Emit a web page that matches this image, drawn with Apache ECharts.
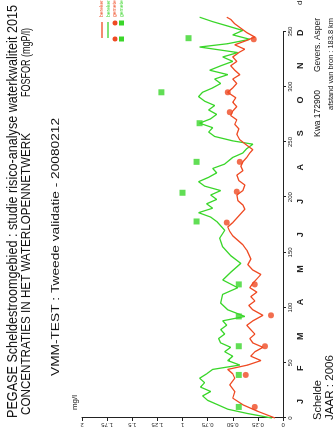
<!DOCTYPE html>
<html>
<head>
<meta charset="utf-8">
<script src="https://cdn.jsdelivr.net/npm/echarts@6/dist/echarts.min.js"></script>
<style>
  html, body { margin: 0; padding: 0; background: #fff; overflow: hidden; width: 336px; height: 436px; }
  /* the plot is laid out landscape and turned a quarter turn counter-clockwise */
  #chart { position: absolute; left: 0; top: 0; width: 436px; height: 336px;
           transform-origin: 0 0; transform: translate(0, 436px) rotate(-90deg); }
</style>
</head>
<body>
<div id="chart"></div>
<script>
// computed phosphorus, red station (day of year, mg P/l)
const dagenRood = [0, 6, 12, 18, 24, 30, 36, 40, 44, 48, 52, 56, 60, 64, 68, 72, 76, 80, 84, 88,
  93, 98, 102, 106, 110, 114, 118, 122, 126, 130, 134, 139, 144, 148, 152, 157, 161, 165, 169, 173,
  177, 181, 185, 189, 193, 197, 202, 206, 211, 215, 220, 224, 228, 232, 236, 240, 243, 247, 252, 257,
  262, 266, 270, 274, 278, 282, 286, 290, 295, 299, 303, 307, 311, 315, 319, 323, 327, 331, 334, 338,
  342, 345, 349, 353, 357, 361, 363];
const berekendRood = [0.08, 0.25, 0.40, 0.50, 0.48, 0.53, 0.48, 0.50, 0.55, 0.35, 0.22, 0.32, 0.28, 0.20, 0.30, 0.33, 0.28, 0.32, 0.36, 0.30,
  0.20, 0.30, 0.34, 0.28, 0.32, 0.26, 0.33, 0.30, 0.26, 0.22, 0.30, 0.35, 0.32, 0.34, 0.36, 0.40, 0.45, 0.50, 0.53, 0.55,
  0.50, 0.46, 0.42, 0.38, 0.40, 0.45, 0.46, 0.40, 0.38, 0.44, 0.46, 0.40, 0.42, 0.40, 0.36, 0.33, 0.30, 0.36, 0.43, 0.46,
  0.44, 0.48, 0.46, 0.52, 0.50, 0.46, 0.50, 0.47, 0.55, 0.50, 0.46, 0.50, 0.43, 0.48, 0.52, 0.46, 0.50, 0.44, 0.38, 0.48,
  0.36, 0.28, 0.36, 0.42, 0.48, 0.52, 0.56];

// computed phosphorus, green station (day of year, mg P/l)
const dagenGroen = [0, 4, 8, 12, 16, 20, 24, 28, 32, 36, 40, 44, 48, 52, 56, 60, 64, 68, 72, 76,
  80, 84, 88, 92, 98, 104, 112, 118, 125, 132, 140, 147, 155, 163, 170, 178, 182, 186, 190, 194,
  198, 202, 206, 210, 214, 218, 222, 226, 230, 236, 240, 244, 248, 251, 255, 259, 263, 267, 271, 275,
  279, 283, 287, 291, 295, 299, 303, 307, 311, 315, 319, 323, 327, 331, 336, 339, 343, 347, 351, 355,
  359, 363];
const berekendGroen = [0.11, 0.35, 0.55, 0.65, 0.75, 0.80, 0.72, 0.82, 0.78, 0.83, 0.76, 0.70, 0.43, 0.55, 0.50, 0.58, 0.52, 0.62, 0.64, 0.58,
  0.62, 0.56, 0.60, 0.38, 0.55, 0.62, 0.60, 0.45, 0.60, 0.52, 0.42, 0.52, 0.60, 0.63, 0.58, 0.66, 0.72, 0.84, 0.70, 0.76,
  0.66, 0.72, 0.62, 0.78, 0.84, 0.74, 0.66, 0.70, 0.58, 0.50, 0.40, 0.36, 0.30, 0.50, 0.68, 0.74, 0.70, 0.83, 0.72, 0.66,
  0.74, 0.68, 0.78, 0.84, 0.80, 0.70, 0.62, 0.68, 0.55, 0.73, 0.62, 0.50, 0.60, 0.45, 0.83, 0.55, 0.33, 0.50, 0.40, 0.55,
  0.70, 0.83];

// sampled values
const meetDagenRood = [10, 39, 65, 93, 121, 177, 205, 232, 277, 295, 343];
const gemetenRood   = [0.28, 0.37, 0.18, 0.12, 0.28, 0.56, 0.46, 0.43, 0.53, 0.55, 0.29];
const meetDagenGroen = [10, 39, 65, 92, 121, 178, 204, 232, 267, 295, 344];
const gemetenGroen   = [0.44, 0.44, 0.44, 0.44, 0.44, 0.86, 1.00, 0.86, 0.83, 1.21, 0.94];

// axis labelling
const valueTickLabels = ['0', '0.25', '0.50', '0.75', '1', '1.25', '1.5', '1.75', '2'];
const dayTicks = [0, 50, 100, 150, 200, 250, 300, 350];
const monthLetters = ['J', 'F', 'M', 'A', 'M', 'J', 'J', 'A', 'S', 'O', 'N', 'D'];
const monthMidDays = [15, 45, 74, 105, 135, 166, 196, 227, 258, 288, 319, 349];

const RED = '#ef4a23';
const GREEN = '#3ad62a';
const FAMILY = '"Liberation Sans", Arial, sans-serif';

const pairs = (xs, ys) => xs.map((x, i) => [x, ys[i]]);

// condensed text: squeeze a string horizontally so it spans [x0, x1]
const measureCtx = document.createElement('canvas').getContext('2d');
function fitTxt(text, x0, x1, y, size, opts) {
  opts = opts || {};
  const font = (opts.weight || 'normal') + ' ' + size + 'px ' + FAMILY;
  measureCtx.font = font;
  const w = measureCtx.measureText(text).width;
  return {
    type: 'text', x: x0, y: y, scaleX: (x1 - x0) / w, silent: true,
    style: {
      text: text, font: font, fill: opts.color || '#111',
      align: 'left', verticalAlign: 'middle', textAlign: 'left', textVerticalAlign: 'middle'
    }
  };
}
function txt(text, x, y, size, opts) {
  opts = opts || {};
  return {
    type: 'text', x: x, y: y, scaleX: opts.sx || 1, silent: true,
    style: {
      text: text, font: (opts.weight || 'normal') + ' ' + size + 'px ' + FAMILY,
      fill: opts.color || '#111',
      align: opts.align || 'left', verticalAlign: 'middle',
      textAlign: opts.align || 'left', textVerticalAlign: 'middle'
    }
  };
}

const chart = echarts.init(document.getElementById('chart'), null, { renderer: 'canvas' });

const option = {
  animation: false,
  backgroundColor: '#fff',
  grid: { left: 18, right: 15, top: 82, bottom: 53, containLabel: false },
  xAxis: [{
    type: 'value', min: 0, max: 365,
    axisLine: { show: false },
    axisTick: { show: true, customValues: dayTicks, length: 3, lineStyle: { color: '#222' } },
    axisLabel: { customValues: dayTicks, fontSize: 6, color: '#222', margin: 4, fontFamily: FAMILY },
    splitLine: { show: false }
  }, {
    type: 'value', min: 0, max: 365, position: 'bottom',
    axisLine: { show: false }, axisTick: { show: false },
    axisLabel: {
      customValues: monthMidDays, margin: 13, fontSize: 9, fontWeight: 'bold', color: '#222', fontFamily: FAMILY,
      formatter: v => monthLetters[monthMidDays.indexOf(v)]
    },
    splitLine: { show: false }
  }],
  yAxis: {
    type: 'value', min: 0, max: 2, interval: 0.25,
    axisLine: { show: true, lineStyle: { color: '#222' } },
    axisTick: { show: true, length: 3, lineStyle: { color: '#222' } },
    axisLabel: {
      rotate: 90, fontSize: 6, color: '#222', margin: 4, fontFamily: FAMILY,
      formatter: v => valueTickLabels[Math.round(v / 0.25)]
    },
    splitLine: { show: false }
  },
  series: [{
    name: 'berekend rood', type: 'line', data: pairs(dagenRood, berekendRood),
    showSymbol: false, lineStyle: { color: RED, width: 1.3 }, z: 3,
    markLine: {
      silent: true, symbol: 'none', label: { show: false },
      lineStyle: { color: '#222', width: 1, type: 'solid' },
      data: [[{ coord: [0, 0] }, { coord: [350, 0] }]]
    }
  }, {
    name: 'berekend groen', type: 'line', data: pairs(dagenGroen, berekendGroen),
    showSymbol: false, lineStyle: { color: GREEN, width: 1.3 }, z: 2
  }, {
    name: 'gemeten rood', type: 'scatter', data: pairs(meetDagenRood, gemetenRood),
    symbol: 'circle', symbolSize: 6, itemStyle: { color: RED }, z: 4
  }, {
    name: 'gemeten groen', type: 'scatter', data: pairs(meetDagenGroen, gemetenGroen),
    symbol: 'rect', symbolSize: 6, itemStyle: { color: GREEN }, z: 4
  }],
  graphic: [
    fitTxt('PEGASE Scheldestroomgebied : studie risico-analyse waterkwaliteit 2015', 18, 431, 13, 15),
    fitTxt('CONCENTRATIES IN HET WATERLOPENNETWERK', 21, 303, 27, 12),
    fitTxt('FOSFOR (mgP/l)', 339, 408, 27, 12),
    fitTxt('VMM-TEST : Tweede validatie - 20080212', 60, 318, 56, 11),
    fitTxt('mg/l', 26, 41, 75, 7),
    fitTxt('Schelde', 16, 56, 318, 11),
    fitTxt('JAAR : 2006', 16, 81, 330, 11),
    fitTxt('Kwa 172900', 299, 346, 318, 9),
    fitTxt('Gevers. Asper', 364, 418, 318, 9),
    fitTxt('afstand van bron : 183.8 km', 326, 418, 331, 7),
    txt('de', 431, 300, 8),
    // legend
    { type: 'line', silent: true, shape: { x1: 398, y1: 102, x2: 414, y2: 102 }, style: { stroke: RED, lineWidth: 1.3 } },
    { type: 'line', silent: true, shape: { x1: 398, y1: 108, x2: 414, y2: 108 }, style: { stroke: GREEN, lineWidth: 1.3 } },
    { type: 'circle', silent: true, shape: { cx: 397, cy: 115, r: 2.5 }, style: { fill: RED } },
    { type: 'circle', silent: true, shape: { cx: 413, cy: 115, r: 2.5 }, style: { fill: RED } },
    { type: 'rect', silent: true, shape: { x: 394.5, y: 119, width: 5, height: 5 }, style: { fill: GREEN } },
    { type: 'rect', silent: true, shape: { x: 410.5, y: 119, width: 5, height: 5 }, style: { fill: GREEN } },
    txt('berekend', 419, 102, 5, { color: RED }),
    txt('berekend', 419, 108.5, 5, { color: GREEN }),
    txt('gemeten', 419, 115, 5, { color: RED }),
    txt('gemeten', 419, 121.5, 5, { color: GREEN })
  ]
};

chart.setOption(option);
</script>
</body>
</html>
